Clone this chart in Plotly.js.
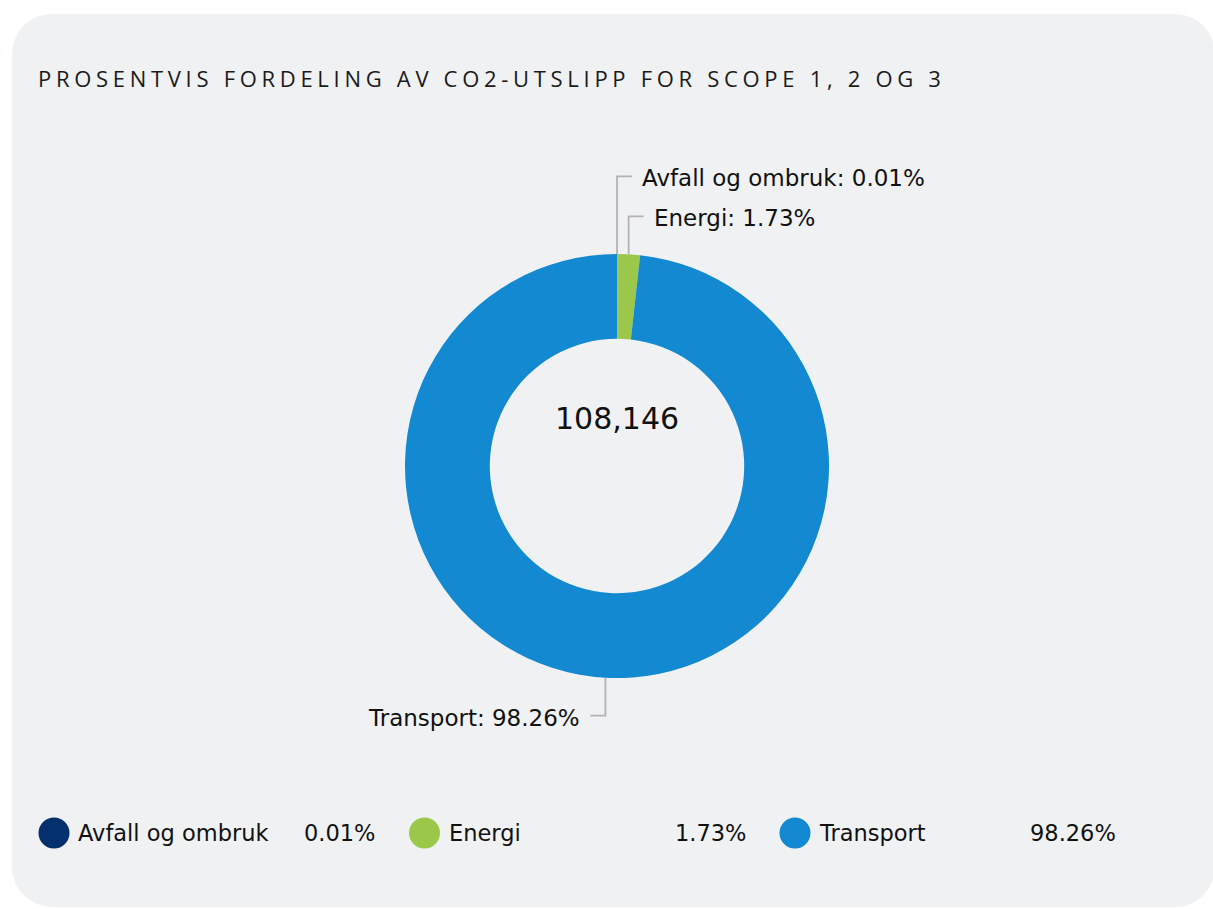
<!DOCTYPE html>
<html>
<head>
<meta charset="utf-8">
<script src="https://cdn.plot.ly/plotly-3.0.1.min.js"></script>
<style>
  body { margin: 0; background: #ffffff; }
  #card {
    position: absolute; left: 12px; top: 14px; width: 1203px; height: 893px;
    background: #f0f1f3; border-radius: 40px;
  }
  #chart { position: absolute; left: 0; top: 0; width: 1213px; height: 909px; }
  #chart .gtitle { letter-spacing: 4.7px; }
</style>
</head>
<body>
<div id="card"></div>
<div id="chart"></div>
<script>
// CO2 emissions by category (tonnes), scope 1, 2 and 3
const categories = ["Avfall og ombruk", "Energi", "Transport"];
const emissions = [11, 1871, 106264];
const shares = ["0.01%", "1.73%", "98.26%"];
const colors = ["#05306e", "#9bc84a", "#1289d0"];

const W = 1213, H = 909;
const labelFont = "DejaVu Sans, Verdana, sans-serif";
const textColor = "#111111";

// donut geometry (pixels)
const cx = 617, cy = 466, R = 212;
const labelDist = 38, labelGap = 40, elbow = 15, textPad = 8;

const total = emissions.reduce((a, b) => a + b, 0);

// leader lines + label anchors, from each slice's mid angle
const lineX = [], lineY = [];
const labels = [];
let cum = 0;
emissions.forEach((v, i) => {
  const theta = 2 * Math.PI * (cum + v / total / 2);
  cum += v / total;
  const px = cx + R * Math.sin(theta);
  const py = cy - R * Math.cos(theta);
  const right = Math.sin(theta) >= 0;
  const top = Math.cos(theta) > 0;
  labels.push({ i, px, py, right, top, ly: top ? py - labelDist : py + labelDist });
});
// stack top labels so they don't overlap (later slices stay closest to the ring)
let prev = null;
labels.filter((l) => l.top).reverse().forEach((l) => {
  if (prev !== null && l.ly > prev - labelGap) l.ly = prev - labelGap;
  prev = l.ly;
});
labels.forEach((l) => {
  const ex = l.right ? l.px + elbow : l.px - elbow;
  lineX.push(l.px, l.px, ex, null);
  lineY.push(l.py, l.ly, l.ly, null);
  l.tx = l.right ? ex + textPad : ex - textPad;
});

const legendX0 = 54, legendStep = 370.5, legendY = 833;

const traces = [
  {
    type: "pie",
    labels: categories,
    values: emissions,
    marker: { colors: colors, line: { width: 0 } },
    hole: 0.6,
    sort: false,
    direction: "clockwise",
    rotation: 0,
    textinfo: "none",
    domain: { x: [(cx - R) / W, (cx + R) / W], y: [1 - (cy + R) / H, 1 - (cy - R) / H] },
    showlegend: false,
    hovertemplate: "%{label}: %{value:,}<extra></extra>",
  },
  {
    type: "scatter",
    mode: "lines",
    x: lineX,
    y: lineY,
    line: { color: "#b2b2b2", width: 1.8 },
    hoverinfo: "skip",
    showlegend: false,
  },
  {
    // bottom legend markers
    type: "scatter",
    mode: "markers",
    x: categories.map((c, i) => legendX0 + i * legendStep),
    y: categories.map(() => legendY),
    marker: { size: 31, color: colors, symbol: "circle" },
    hoverinfo: "skip",
    showlegend: false,
  },
];

const annotations = [
  {
    text: total.toLocaleString("en-US"),
    xref: "paper", yref: "paper",
    x: cx / W, y: 1 - 418 / H,
    showarrow: false,
    font: { family: labelFont, size: 30, color: textColor },
  },
];
labels.forEach((l) => {
  annotations.push({
    text: categories[l.i] + ": " + shares[l.i],
    xref: "x", yref: "y", x: l.tx, y: l.ly,
    xanchor: l.right ? "left" : "right", yanchor: "middle", yshift: -2,
    showarrow: false,
    font: { family: labelFont, size: 23, color: textColor },
  });
});
categories.forEach((name, i) => {
  const x = legendX0 + i * legendStep;
  annotations.push({
    text: name, xref: "x", yref: "y", x: x, y: legendY,
    xanchor: "left", xshift: 22, showarrow: false,
    font: { family: labelFont, size: 22.5, color: textColor },
  });
  annotations.push({
    text: shares[i], xref: "x", yref: "y", x: x, y: legendY,
    xanchor: "right", xshift: 323, showarrow: false,
    font: { family: labelFont, size: 22.5, color: textColor },
  });
});

const layout = {
  width: W,
  height: H,
  margin: { l: 0, r: 0, t: 0, b: 0 },
  paper_bgcolor: "rgba(0,0,0,0)",
  plot_bgcolor: "rgba(0,0,0,0)",
  title: {
    text: "PROSENTVIS FORDELING AV CO2-UTSLIPP FOR SCOPE 1, 2 OG 3",
    font: { family: "Open Sans, sans-serif", size: 22, color: "#1a1a1a" },
    x: 38 / W, xanchor: "left", xref: "container",
    y: 1 - 79 / H, yanchor: "middle", yref: "container",
  },
  xaxis: { visible: false, range: [0, W], fixedrange: true },
  yaxis: { visible: false, range: [H, 0], fixedrange: true },
  annotations: annotations,
};

Plotly.newPlot("chart", traces, layout, { displayModeBar: false, responsive: false });
</script>
</body>
</html>
